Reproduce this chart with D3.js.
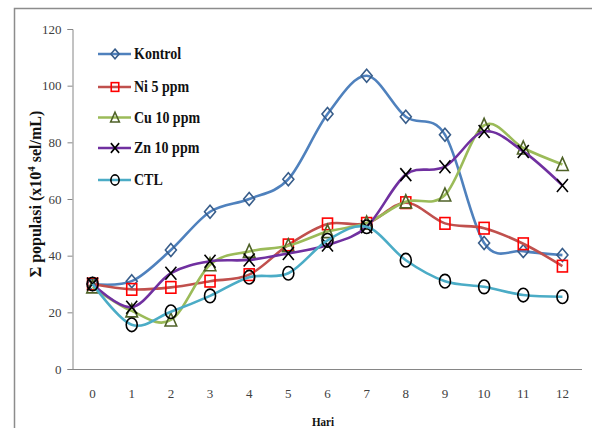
<!DOCTYPE html>
<html>
<head>
<meta charset="utf-8">
<script src="https://cdn.jsdelivr.net/npm/d3@7"></script>
<style>
  html, body { margin: 0; padding: 0; background: #fff; }
  svg { display: block; }
</style>
</head>
<body>
<svg id="chart" width="592" height="428"></svg>
<script>
// Days of observation
const days = [0, 1, 2, 3, 4, 5, 6, 7, 8, 9, 10, 11, 12];

// Population (x10^4 cells/mL) per treatment
const kontrol = [30, 31, 42, 55.5, 60, 67, 90, 103.5, 89, 82.7, 44.5, 41.6, 40.2];
const ni5     = [30, 28.1, 28.8, 31, 33.3, 43.8, 51.2, 51.4, 58.7, 51.4, 49.7, 44.2, 36.3];
const cu10    = [29, 20.5, 17.3, 36.8, 41.5, 43.5, 48.5, 51.5, 59, 61.4, 86, 78, 72.2];
const zn10    = [30, 21.8, 33.8, 38, 38.5, 40.8, 43.8, 50.2, 68.6, 71.4, 83.8, 76.8, 64.8];
const ctl     = [30, 15.6, 20.2, 25.8, 32.4, 33.8, 45.4, 50.2, 38.4, 31, 29, 26.1, 25.5];

const yTicks = [0, 20, 40, 60, 80, 100, 120];

const seriesNames  = ["Kontrol", "Ni 5 ppm", "Cu 10 ppm", "Zn 10 ppm", "CTL"];
const seriesValues = [kontrol, ni5, cu10, zn10, ctl];
const lineColors   = ["#4F81BD", "#C0504D", "#9BBB59", "#7030A0", "#4BACC6"];
const markerColors = ["#385D8A", "#FF0000", "#4F6228", "#000000", "#000000"];
const markerTypes  = ["diamond", "square", "triangle", "cross", "circle"];

const SERIF = "'Liberation Serif', 'Times New Roman', serif";

const svg = d3.select("#chart");

// Outer frame
svg.append("rect")
  .attr("x", 14.5).attr("y", 8.5)
  .attr("width", 700).attr("height", 600)
  .attr("fill", "none").attr("stroke", "#8c8c8c").attr("stroke-width", 1.5);

const x = d3.scaleBand().domain(days).range([73, 582]).paddingInner(0).paddingOuter(0);
const cx = d => x(d) + x.bandwidth() / 2;
const y = d3.scaleLinear().domain([0, 120]).range([369, 29]);

// Y axis
const yAxis = d3.axisLeft(y).tickValues(yTicks).tickSize(5).tickPadding(6);
const gy = svg.append("g").attr("transform", "translate(72.5,0)").call(yAxis);
gy.select(".domain").attr("stroke", "#868686").attr("stroke-width", 1);
gy.selectAll(".tick line").attr("stroke", "#868686");
gy.selectAll(".tick text")
  .style("font-family", SERIF)
  .style("font-size", "13px").attr("fill", "#404040");

// X axis (no tick marks)
const xAxis = d3.axisBottom(x).tickSize(0).tickPadding(19);
const gx = svg.append("g").attr("transform", "translate(0,369.5)").call(xAxis);
gx.select(".domain").attr("stroke", "#868686").attr("stroke-width", 1).attr("d", "M72.5,0H582");
gx.selectAll(".tick text")
  .style("font-family", SERIF)
  .style("font-size", "13px").attr("fill", "#404040");

// Axis titles
svg.append("text")
  .attr("transform", "translate(323,426) scale(0.85,1)")
  .attr("text-anchor", "middle")
  .style("font-family", SERIF)
  .style("font-size", "13px").style("font-weight", "bold").attr("fill", "#111")
  .text("Hari");

const yl = svg.append("text")
  .attr("transform", "translate(41,194) rotate(-90)")
  .attr("text-anchor", "middle")
  .style("font-family", SERIF)
  .style("font-size", "16px").style("font-weight", "bold").attr("fill", "#111");
yl.append("tspan").text("Σ populasi (x10");
yl.append("tspan").attr("dy", -6).style("font-size", "11px").text("4");
yl.append("tspan").attr("dy", 6).text(" sel/mL)");

// Marker drawing
function drawMarker(g, type, color, sx, sy) {
  if (type === "diamond") {
    g.append("path")
      .attr("d", `M0,${-6.5*sy}L${5.5*sx},0L0,${6.5*sy}L${-5.5*sx},0Z`)
      .attr("fill", "none").attr("stroke", color).attr("stroke-width", 1.6);
  } else if (type === "square") {
    g.append("rect")
      .attr("x", -5*sx).attr("y", -5.8*sy).attr("width", 10*sx).attr("height", 11.6*sy)
      .attr("fill", "none").attr("stroke", color).attr("stroke-width", 1.6);
  } else if (type === "triangle") {
    g.append("path")
      .attr("d", `M0,${-7*sy}L${5.8*sx},${6*sy}L${-5.8*sx},${6*sy}Z`)
      .attr("fill", "none").attr("stroke", color).attr("stroke-width", 1.6);
  } else if (type === "cross") {
    g.append("path")
      .attr("d", `M${-5.5*sx},${-6.5*sy}L${5.5*sx},${6.5*sy}M${5.5*sx},${-6.5*sy}L${-5.5*sx},${6.5*sy}`)
      .attr("fill", "none").attr("stroke", color).attr("stroke-width", 1.6);
  } else if (type === "circle") {
    g.append("ellipse")
      .attr("rx", 5.5*sx).attr("ry", 6.8*sy)
      .attr("fill", "none").attr("stroke", color).attr("stroke-width", 1.6);
  }
}

const line = d3.line()
  .x((v, i) => cx(days[i]))
  .y(v => y(v))
  .curve(d3.curveCatmullRom.alpha(0));

seriesValues.forEach((vals, s) => {
  const g = svg.append("g");
  g.append("path")
    .datum(vals)
    .attr("d", line)
    .attr("fill", "none")
    .attr("stroke", lineColors[s])
    .attr("stroke-width", 2.6)
    .attr("stroke-linejoin", "round");
  vals.forEach((v, i) => {
    const m = g.append("g").attr("transform", `translate(${cx(days[i])},${y(v)})`);
    drawMarker(m, markerTypes[s], markerColors[s], 1, 1);
  });
});

// Legend
const legendY = [54, 87, 117.5, 148, 180];
seriesNames.forEach((name, s) => {
  const g = svg.append("g").attr("transform", `translate(0,${legendY[s]})`);
  g.append("line")
    .attr("x1", 98).attr("x2", 131).attr("y1", 0).attr("y2", 0)
    .attr("stroke", lineColors[s]).attr("stroke-width", 2.6);
  const m = g.append("g").attr("transform", "translate(115,0)");
  drawMarker(m, markerTypes[s], markerColors[s], 0.75, 0.75);
  g.append("text")
    .attr("transform", "translate(134,5) scale(1,1.2)")
    .style("font-family", SERIF)
    .style("font-size", "14px").style("font-weight", "bold").attr("fill", "#111")
    .text(name);
});
</script>
</body>
</html>
